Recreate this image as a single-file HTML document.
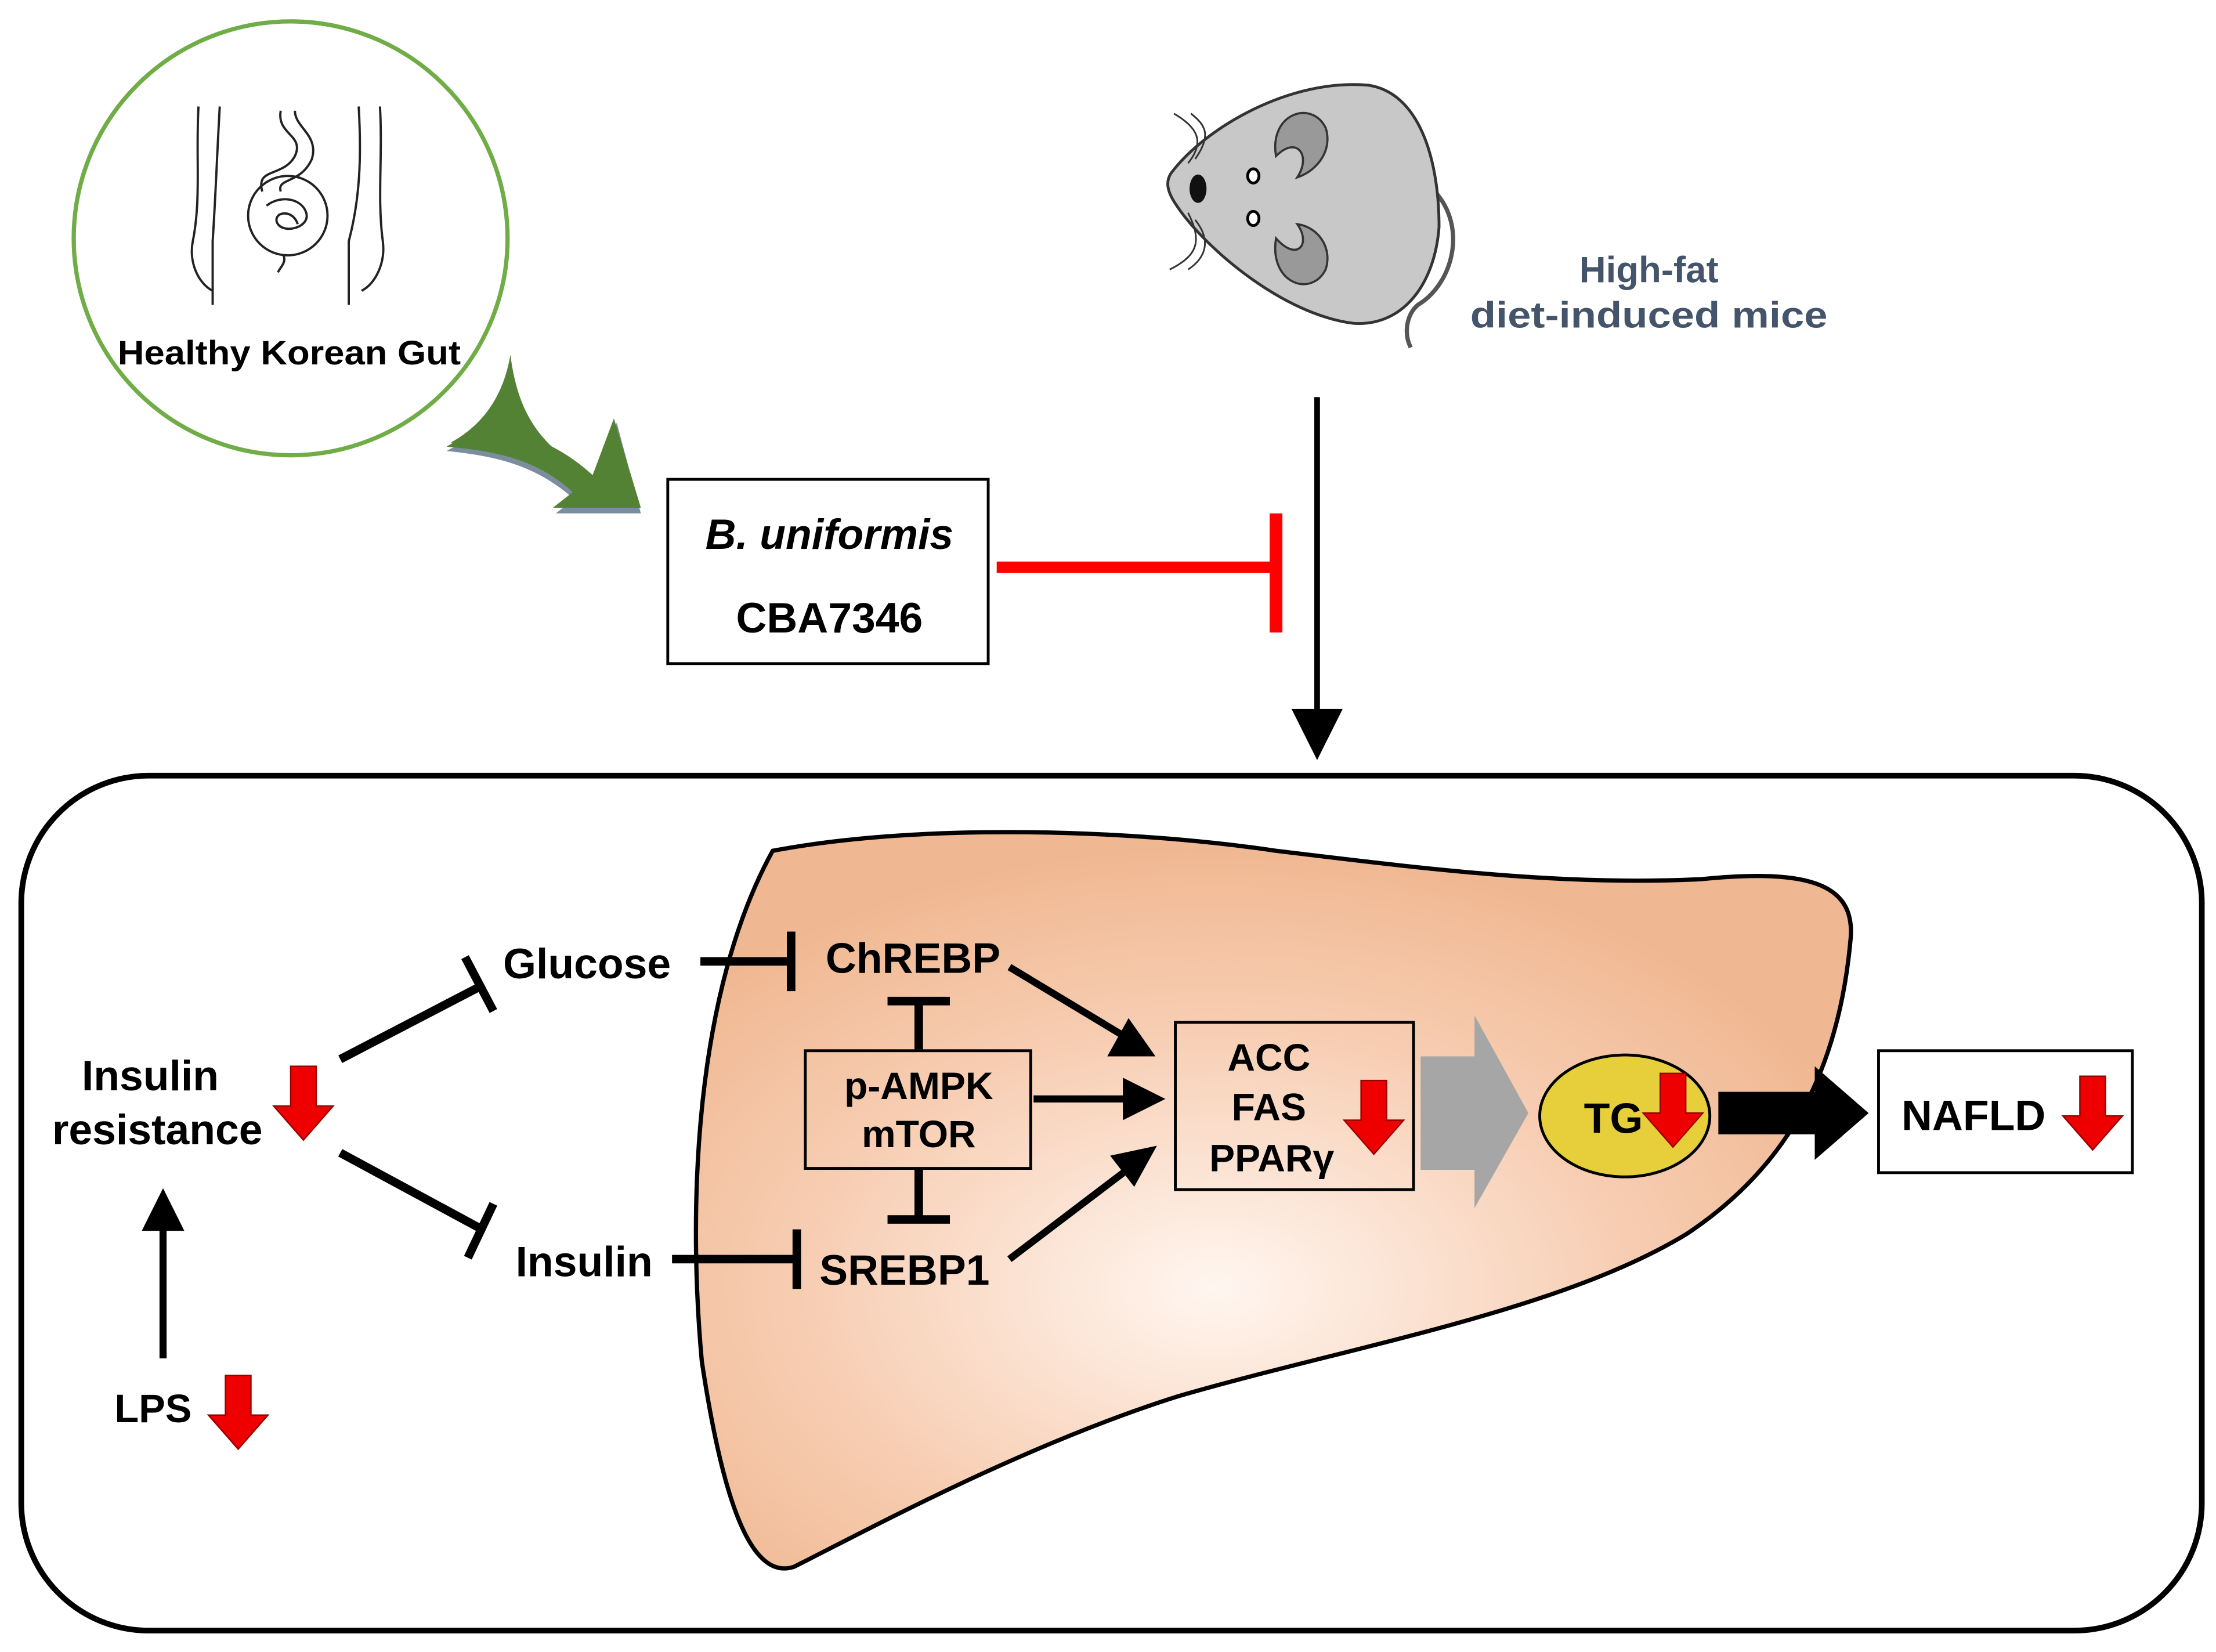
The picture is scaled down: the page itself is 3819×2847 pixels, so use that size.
<!DOCTYPE html>
<html><head><meta charset="utf-8"><style>
html,body{margin:0;padding:0;background:#fff}
svg{display:block}
text{font-family:"Liberation Sans",Arial,sans-serif;font-weight:bold}
</style></head><body>
<svg width="3819" height="2847" viewBox="0 0 1563 1165" xmlns="http://www.w3.org/2000/svg">
<defs>
<radialGradient id="lg" cx="0.45" cy="0.62" r="0.6">
<stop offset="0" stop-color="#fff6f0"/><stop offset="0.6" stop-color="#f7cdb2"/><stop offset="1" stop-color="#f0b892"/>
</radialGradient>
<g id="rd"><path d="M-9,-28 h18 v28 h12 l-21,24 l-21,-24 h12z" fill="#e00" stroke="#900" stroke-width="1"/></g>
</defs>
<!-- gut circle -->
<circle cx="205" cy="168" r="153" fill="#fff" stroke="#70ad47" stroke-width="3"/>
<g fill="none" stroke="#222" stroke-width="1.6">
<path d="M140,75 C138,110 142,140 136,170 C133,185 140,200 150,205"/>
<path d="M155,75 C153,110 152,140 150,170 L150,215"/>
<path d="M268,75 C270,110 266,140 270,170 C272,185 265,200 255,205"/>
<path d="M253,75 C255,110 254,140 246,170 L246,215"/>
<path d="M198,78 C195,95 215,95 208,110 C200,125 180,118 185,135"/>
<path d="M208,78 C208,90 225,95 220,112 C212,130 195,125 198,135"/>
<ellipse cx="203" cy="152" rx="28" ry="28"/>
<path d="M188,145 c10,-8 25,-5 28,5 c3,10 -15,15 -20,8 c-5,-8 10,-12 14,0"/>
<path d="M200,180 c2,5 -2,8 -4,12"/>
</g>
<text x="204" y="257" font-size="24" text-anchor="middle" fill="#000" textLength="242" lengthAdjust="spacingAndGlyphs">Healthy Korean Gut</text>
<!-- green curved arrow -->
<path d="M315,318 C345,300 385,310 420,340 L435,298 L452,362 L392,362 L405,352 C380,330 355,322 315,318z" fill="#7a8ea0"/>
<path d="M315,315 C345,295 385,305 418,335 L433,295 L452,358 L390,358 L404,347 C380,325 352,318 315,315z" fill="#548235"/>
<path d="M318,312 C340,300 355,280 360,250 C365,290 380,315 418,335" fill="#548235"/>
<!-- mouse -->
<path d="M1012,135 C1035,160 1025,200 1000,215 C992,222 990,235 995,245" fill="none" stroke="#555" stroke-width="3"/>
<path d="M826,122 C850,90 910,55 965,60 C1000,65 1015,110 1015,160 C1012,200 990,230 955,228 C905,222 850,175 830,145 C823,135 822,128 826,122z" fill="#c8c8c8" stroke="#333" stroke-width="2"/>
<path d="M900,110 C895,80 925,70 935,90 C940,105 930,120 915,125 C925,110 915,95 900,110z" fill="#999" stroke="#333" stroke-width="1.5"/>
<path d="M900,168 C895,200 925,210 935,190 C940,175 930,160 915,158 C925,172 915,185 900,168z" fill="#999" stroke="#333" stroke-width="1.5"/>
<ellipse cx="845" cy="133" rx="6" ry="10" fill="#111"/>
<ellipse cx="884" cy="124" rx="4" ry="5" fill="#fff" stroke="#000" stroke-width="2"/>
<ellipse cx="884" cy="154" rx="4" ry="5" fill="#fff" stroke="#000" stroke-width="2"/>
<g stroke="#333" stroke-width="1.2" fill="none"><path d="M838,115 C850,100 845,90 828,80"/><path d="M843,112 C855,95 850,88 840,80"/><path d="M838,150 C848,170 845,180 825,190"/><path d="M843,155 C855,170 850,182 838,190"/></g>
<text x="1163" y="199" font-size="26" text-anchor="middle" fill="#44546a">High-fat</text>
<text x="1163" y="231" font-size="26" text-anchor="middle" fill="#44546a" textLength="252" lengthAdjust="spacingAndGlyphs">diet-induced mice</text>
<!-- B. uniformis box -->
<rect x="471" y="338" width="226" height="130" fill="#fff" stroke="#000" stroke-width="2"/>
<text x="585" y="387" font-size="30" text-anchor="middle" font-style="italic">B. uniformis</text>
<text x="585" y="446" font-size="30" text-anchor="middle">CBA7346</text>
<line x1="703" y1="400" x2="900" y2="400" stroke="#f00" stroke-width="8"/>
<line x1="900" y1="362" x2="900" y2="446" stroke="#f00" stroke-width="9"/>
<line x1="929" y1="280" x2="929" y2="505" stroke="#000" stroke-width="4"/>
<path d="M911,500 L947,500 L929,536z"/>
<!-- big rounded box -->
<rect x="15" y="547" width="1538" height="603" rx="90" fill="#fff" stroke="#000" stroke-width="4"/>
<!-- liver -->
<path d="M545,600 C650,580 800,585 900,600 C1000,612 1100,625 1200,620 C1280,612 1310,625 1305,665 C1295,770 1250,830 1190,870 C1100,925 950,950 830,985 C720,1020 610,1080 560,1105 C530,1115 510,1060 495,960 C485,850 490,700 545,600z" fill="url(#lg)" stroke="#000" stroke-width="3"/>
<!-- labels -->
<text x="414" y="690" font-size="30" text-anchor="middle">Glucose</text>
<text x="412" y="900" font-size="30" text-anchor="middle">Insulin</text>
<text x="106" y="769" font-size="30" text-anchor="middle">Insulin</text>
<text x="111" y="807" font-size="30" text-anchor="middle">resistance</text>
<use href="#rd" x="214" y="780"/>
<text x="108" y="1003" font-size="28" text-anchor="middle">LPS</text>
<use href="#rd" x="168" y="998"/>
<line x1="115" y1="958" x2="115" y2="860" stroke="#000" stroke-width="5"/>
<path d="M100,868 L130,868 L115,838z"/>
<line x1="240" y1="747" x2="340" y2="695" stroke="#000" stroke-width="6"/>
<line x1="328" y1="675" x2="348" y2="713" stroke="#000" stroke-width="6"/>
<line x1="240" y1="813" x2="340" y2="867" stroke="#000" stroke-width="6"/>
<line x1="348" y1="849" x2="330" y2="887" stroke="#000" stroke-width="6"/>
<line x1="494" y1="678" x2="556" y2="678" stroke="#000" stroke-width="6"/>
<line x1="558" y1="657" x2="558" y2="699" stroke="#000" stroke-width="6"/>
<line x1="474" y1="888" x2="560" y2="888" stroke="#000" stroke-width="6"/>
<line x1="562" y1="867" x2="562" y2="909" stroke="#000" stroke-width="6"/>
<text x="644" y="686" font-size="30" text-anchor="middle">ChREBP</text>
<text x="638" y="906" font-size="30" text-anchor="middle">SREBP1</text>
<rect x="568" y="741" width="159" height="83" fill="none" stroke="#000" stroke-width="2"/>
<text x="648" y="775" font-size="27" text-anchor="middle">p-AMPK</text>
<text x="648" y="809" font-size="27" text-anchor="middle">mTOR</text>
<line x1="648" y1="740" x2="648" y2="707" stroke="#000" stroke-width="6"/>
<line x1="626" y1="706" x2="670" y2="706" stroke="#000" stroke-width="6"/>
<line x1="648" y1="825" x2="648" y2="860" stroke="#000" stroke-width="6"/>
<line x1="626" y1="860" x2="670" y2="860" stroke="#000" stroke-width="6"/>
<line x1="712" y1="682" x2="795" y2="732" stroke="#000" stroke-width="5"/>
<path d="M815,745 L781,745 L796,718z"/>
<line x1="729" y1="775" x2="795" y2="775" stroke="#000" stroke-width="5"/>
<path d="M822,775 L792,760 L792,790z"/>
<line x1="712" y1="888" x2="795" y2="825" stroke="#000" stroke-width="5"/>
<path d="M816,808 L783,815 L800,837z"/>
<rect x="829" y="721" width="168" height="118" fill="none" stroke="#000" stroke-width="2"/>
<text x="895" y="755" font-size="27" text-anchor="middle">ACC</text>
<text x="895" y="790" font-size="27" text-anchor="middle">FAS</text>
<text x="897" y="826" font-size="27" text-anchor="middle">PPARγ</text>
<use href="#rd" x="969" y="790"/>
<path d="M1002,745 L1040,745 L1040,716 L1078,785 L1040,852 L1040,825 L1002,825z" fill="#a6a6a6"/>
<ellipse cx="1146" cy="787" rx="60" ry="43" fill="#e6cf3a" stroke="#000" stroke-width="2"/>
<text x="1138" y="799" font-size="30" text-anchor="middle">TG</text>
<use href="#rd" x="1180" y="785"/>
<path d="M1212,770 L1280,770 L1280,752 L1318,785 L1280,818 L1280,800 L1212,800z" fill="#000"/>
<rect x="1325" y="741" width="179" height="86" fill="#fff" stroke="#000" stroke-width="2"/>
<text x="1392" y="797" font-size="30" text-anchor="middle">NAFLD</text>
<use href="#rd" x="1476" y="787"/>
</svg>
</body></html>
